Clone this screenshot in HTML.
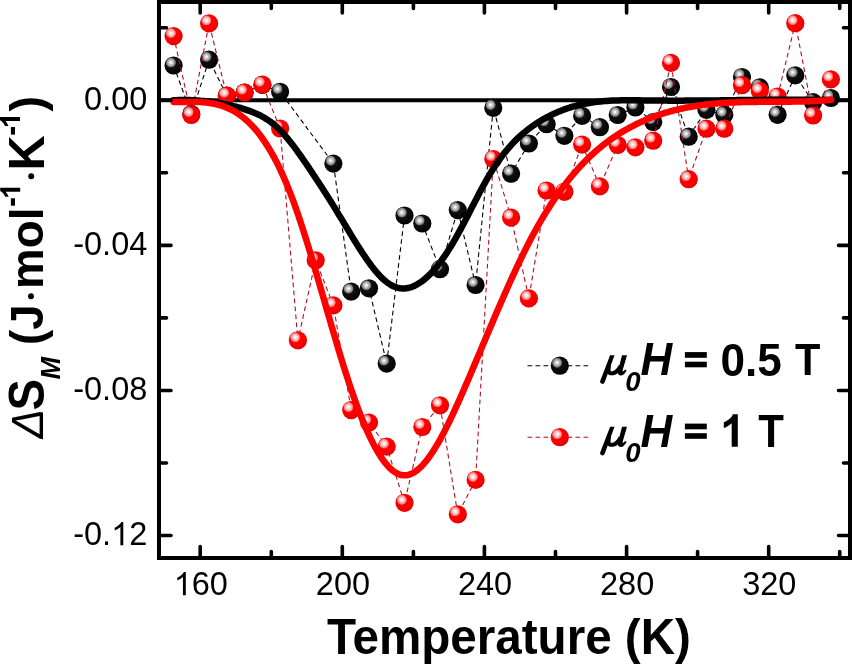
<!DOCTYPE html>
<html><head><meta charset="utf-8"><title>Delta S_M vs Temperature</title><style>
html,body{margin:0;padding:0;background:#fff;overflow:hidden;}
svg{display:block;will-change:transform;}
text{font-family:"Liberation Sans",sans-serif;fill:#000;}
.b{font-weight:bold;}
.bi{font-weight:bold;font-style:italic;}
.si{font-family:"Liberation Serif",serif;font-style:italic;}
.i{font-style:italic;}
.n{fill:none;}
</style></head><body>
<svg width="852" height="664" viewBox="0 0 852 664">
<defs>
<radialGradient id="bk" cx="0.42" cy="0.4" r="0.62"><stop offset="0" stop-color="#1a1a1a"/><stop offset="1" stop-color="#000"/></radialGradient>
<radialGradient id="br" cx="0.42" cy="0.4" r="0.62"><stop offset="0" stop-color="#ff0000"/><stop offset="0.75" stop-color="#fa0000"/><stop offset="1" stop-color="#d80000"/></radialGradient>
<radialGradient id="hk" cx="0.5" cy="0.5" r="0.5"><stop offset="0" stop-color="#ffffff"/><stop offset="0.15" stop-color="#f2f2f2"/><stop offset="0.45" stop-color="#bdbdbd"/><stop offset="0.75" stop-color="#8c8c8c"/><stop offset="0.92" stop-color="#4a4a4a"/><stop offset="1" stop-color="#1a1a1a" stop-opacity="0.5"/></radialGradient>
<radialGradient id="hr" cx="0.5" cy="0.5" r="0.5"><stop offset="0" stop-color="#ffffff"/><stop offset="0.3" stop-color="#ffe4e4"/><stop offset="0.7" stop-color="#ff9a9a"/><stop offset="0.9" stop-color="#ff5050"/><stop offset="1" stop-color="#ff0000" stop-opacity="0.6"/></radialGradient>
</defs>
<rect width="852" height="664" fill="#fff"/>

<line x1="159" y1="100.3" x2="850" y2="100.3" stroke="#000" stroke-width="4"/>
<polyline points="173.6,65.5 191.3,114.0 209.1,59.7 226.8,95.7 244.6,92.6 262.4,84.9 280.1,91.8 333.4,163.6 351.2,291.6 369.0,288.3 386.7,363.6 404.5,215.5 422.3,223.5 440.0,269.2 457.8,210.1 475.6,285.0 493.3,107.9 511.1,173.7 528.9,143.5 546.6,124.2 564.4,135.8 582.1,115.9 599.9,127.2 617.7,115.0 635.4,107.5 653.2,122.0 671.0,87.0 688.7,136.7 706.5,109.9 724.3,114.7 742.0,77.0 759.8,87.4 777.6,114.8 795.3,75.4 813.1,102.2 830.9,98.0" fill="none" stroke="#000" stroke-width="1.1" stroke-dasharray="4.7 3.3"/>
<circle cx="173.6" cy="65.5" r="9.1" fill="url(#bk)"/><circle cx="170.9" cy="62.5" r="5.3" fill="url(#hk)"/><circle cx="191.3" cy="114.0" r="9.1" fill="url(#bk)"/><circle cx="188.6" cy="111.0" r="5.3" fill="url(#hk)"/><circle cx="209.1" cy="59.7" r="9.1" fill="url(#bk)"/><circle cx="206.4" cy="56.7" r="5.3" fill="url(#hk)"/><circle cx="226.8" cy="95.7" r="9.1" fill="url(#bk)"/><circle cx="224.1" cy="92.7" r="5.3" fill="url(#hk)"/><circle cx="244.6" cy="92.6" r="9.1" fill="url(#bk)"/><circle cx="241.9" cy="89.6" r="5.3" fill="url(#hk)"/><circle cx="262.4" cy="84.9" r="9.1" fill="url(#bk)"/><circle cx="259.7" cy="81.9" r="5.3" fill="url(#hk)"/><circle cx="280.1" cy="91.8" r="9.1" fill="url(#bk)"/><circle cx="277.4" cy="88.8" r="5.3" fill="url(#hk)"/><circle cx="333.4" cy="163.6" r="9.1" fill="url(#bk)"/><circle cx="330.7" cy="160.6" r="5.3" fill="url(#hk)"/><circle cx="351.2" cy="291.6" r="9.1" fill="url(#bk)"/><circle cx="348.5" cy="288.6" r="5.3" fill="url(#hk)"/><circle cx="369.0" cy="288.3" r="9.1" fill="url(#bk)"/><circle cx="366.3" cy="285.3" r="5.3" fill="url(#hk)"/><circle cx="386.7" cy="363.6" r="9.1" fill="url(#bk)"/><circle cx="384.0" cy="360.6" r="5.3" fill="url(#hk)"/><circle cx="404.5" cy="215.5" r="9.1" fill="url(#bk)"/><circle cx="401.8" cy="212.5" r="5.3" fill="url(#hk)"/><circle cx="422.3" cy="223.5" r="9.1" fill="url(#bk)"/><circle cx="419.6" cy="220.5" r="5.3" fill="url(#hk)"/><circle cx="440.0" cy="269.2" r="9.1" fill="url(#bk)"/><circle cx="437.3" cy="266.2" r="5.3" fill="url(#hk)"/><circle cx="457.8" cy="210.1" r="9.1" fill="url(#bk)"/><circle cx="455.1" cy="207.1" r="5.3" fill="url(#hk)"/><circle cx="475.6" cy="285.0" r="9.1" fill="url(#bk)"/><circle cx="472.9" cy="282.0" r="5.3" fill="url(#hk)"/><circle cx="493.3" cy="107.9" r="9.1" fill="url(#bk)"/><circle cx="490.6" cy="104.9" r="5.3" fill="url(#hk)"/><circle cx="511.1" cy="173.7" r="9.1" fill="url(#bk)"/><circle cx="508.4" cy="170.7" r="5.3" fill="url(#hk)"/><circle cx="528.9" cy="143.5" r="9.1" fill="url(#bk)"/><circle cx="526.2" cy="140.5" r="5.3" fill="url(#hk)"/><circle cx="546.6" cy="124.2" r="9.1" fill="url(#bk)"/><circle cx="543.9" cy="121.2" r="5.3" fill="url(#hk)"/><circle cx="564.4" cy="135.8" r="9.1" fill="url(#bk)"/><circle cx="561.7" cy="132.8" r="5.3" fill="url(#hk)"/><circle cx="582.1" cy="115.9" r="9.1" fill="url(#bk)"/><circle cx="579.4" cy="112.9" r="5.3" fill="url(#hk)"/><circle cx="599.9" cy="127.2" r="9.1" fill="url(#bk)"/><circle cx="597.2" cy="124.2" r="5.3" fill="url(#hk)"/><circle cx="617.7" cy="115.0" r="9.1" fill="url(#bk)"/><circle cx="615.0" cy="112.0" r="5.3" fill="url(#hk)"/><circle cx="635.4" cy="107.5" r="9.1" fill="url(#bk)"/><circle cx="632.7" cy="104.5" r="5.3" fill="url(#hk)"/><circle cx="653.2" cy="122.0" r="9.1" fill="url(#bk)"/><circle cx="650.5" cy="119.0" r="5.3" fill="url(#hk)"/><circle cx="671.0" cy="87.0" r="9.1" fill="url(#bk)"/><circle cx="668.3" cy="84.0" r="5.3" fill="url(#hk)"/><circle cx="688.7" cy="136.7" r="9.1" fill="url(#bk)"/><circle cx="686.0" cy="133.7" r="5.3" fill="url(#hk)"/><circle cx="706.5" cy="109.9" r="9.1" fill="url(#bk)"/><circle cx="703.8" cy="106.9" r="5.3" fill="url(#hk)"/><circle cx="724.3" cy="114.7" r="9.1" fill="url(#bk)"/><circle cx="721.6" cy="111.7" r="5.3" fill="url(#hk)"/><circle cx="742.0" cy="77.0" r="9.1" fill="url(#bk)"/><circle cx="739.3" cy="74.0" r="5.3" fill="url(#hk)"/><circle cx="759.8" cy="87.4" r="9.1" fill="url(#bk)"/><circle cx="757.1" cy="84.4" r="5.3" fill="url(#hk)"/><circle cx="777.6" cy="114.8" r="9.1" fill="url(#bk)"/><circle cx="774.9" cy="111.8" r="5.3" fill="url(#hk)"/><circle cx="795.3" cy="75.4" r="9.1" fill="url(#bk)"/><circle cx="792.6" cy="72.4" r="5.3" fill="url(#hk)"/><circle cx="813.1" cy="102.2" r="9.1" fill="url(#bk)"/><circle cx="810.4" cy="99.2" r="5.3" fill="url(#hk)"/><circle cx="830.9" cy="98.0" r="9.1" fill="url(#bk)"/><circle cx="828.2" cy="95.0" r="5.3" fill="url(#hk)"/>
<polyline points="173.6,36.1 191.3,115.0 209.1,23.4 226.8,95.7 244.6,92.6 262.4,84.7 280.1,128.5 297.9,340.3 315.7,260.3 333.4,305.4 351.2,410.1 369.0,422.5 386.7,446.6 404.5,502.8 422.3,427.0 440.0,405.3 457.8,514.4 475.6,479.9 493.3,159.0 511.1,217.6 528.9,298.4 546.6,190.5 564.4,191.8 582.1,144.6 599.9,186.4 617.7,145.0 635.4,147.4 653.2,140.7 671.0,62.9 688.7,179.2 706.5,128.7 724.3,128.7 742.0,85.2 759.8,91.0 777.6,96.5 795.3,23.2 813.1,115.5 830.9,79.4" fill="none" stroke="#b01020" stroke-width="1.1" stroke-dasharray="4.7 3.3"/>
<circle cx="173.6" cy="36.1" r="9.1" fill="url(#br)"/><circle cx="170.9" cy="33.1" r="5.3" fill="url(#hr)"/><circle cx="191.3" cy="115.0" r="9.1" fill="url(#br)"/><circle cx="188.6" cy="112.0" r="5.3" fill="url(#hr)"/><circle cx="209.1" cy="23.4" r="9.1" fill="url(#br)"/><circle cx="206.4" cy="20.4" r="5.3" fill="url(#hr)"/><circle cx="226.8" cy="95.7" r="9.1" fill="url(#br)"/><circle cx="224.1" cy="92.7" r="5.3" fill="url(#hr)"/><circle cx="244.6" cy="92.6" r="9.1" fill="url(#br)"/><circle cx="241.9" cy="89.6" r="5.3" fill="url(#hr)"/><circle cx="262.4" cy="84.7" r="9.1" fill="url(#br)"/><circle cx="259.7" cy="81.7" r="5.3" fill="url(#hr)"/><circle cx="280.1" cy="128.5" r="9.1" fill="url(#br)"/><circle cx="277.4" cy="125.5" r="5.3" fill="url(#hr)"/><circle cx="297.9" cy="340.3" r="9.1" fill="url(#br)"/><circle cx="295.2" cy="337.3" r="5.3" fill="url(#hr)"/><circle cx="315.7" cy="260.3" r="9.1" fill="url(#br)"/><circle cx="313.0" cy="257.3" r="5.3" fill="url(#hr)"/><circle cx="333.4" cy="305.4" r="9.1" fill="url(#br)"/><circle cx="330.7" cy="302.4" r="5.3" fill="url(#hr)"/><circle cx="351.2" cy="410.1" r="9.1" fill="url(#br)"/><circle cx="348.5" cy="407.1" r="5.3" fill="url(#hr)"/><circle cx="369.0" cy="422.5" r="9.1" fill="url(#br)"/><circle cx="366.3" cy="419.5" r="5.3" fill="url(#hr)"/><circle cx="386.7" cy="446.6" r="9.1" fill="url(#br)"/><circle cx="384.0" cy="443.6" r="5.3" fill="url(#hr)"/><circle cx="404.5" cy="502.8" r="9.1" fill="url(#br)"/><circle cx="401.8" cy="499.8" r="5.3" fill="url(#hr)"/><circle cx="422.3" cy="427.0" r="9.1" fill="url(#br)"/><circle cx="419.6" cy="424.0" r="5.3" fill="url(#hr)"/><circle cx="440.0" cy="405.3" r="9.1" fill="url(#br)"/><circle cx="437.3" cy="402.3" r="5.3" fill="url(#hr)"/><circle cx="457.8" cy="514.4" r="9.1" fill="url(#br)"/><circle cx="455.1" cy="511.4" r="5.3" fill="url(#hr)"/><circle cx="475.6" cy="479.9" r="9.1" fill="url(#br)"/><circle cx="472.9" cy="476.9" r="5.3" fill="url(#hr)"/><circle cx="493.3" cy="159.0" r="9.1" fill="url(#br)"/><circle cx="490.6" cy="156.0" r="5.3" fill="url(#hr)"/><circle cx="511.1" cy="217.6" r="9.1" fill="url(#br)"/><circle cx="508.4" cy="214.6" r="5.3" fill="url(#hr)"/><circle cx="528.9" cy="298.4" r="9.1" fill="url(#br)"/><circle cx="526.2" cy="295.4" r="5.3" fill="url(#hr)"/><circle cx="546.6" cy="190.5" r="9.1" fill="url(#br)"/><circle cx="543.9" cy="187.5" r="5.3" fill="url(#hr)"/><circle cx="564.4" cy="191.8" r="9.1" fill="url(#br)"/><circle cx="561.7" cy="188.8" r="5.3" fill="url(#hr)"/><circle cx="582.1" cy="144.6" r="9.1" fill="url(#br)"/><circle cx="579.4" cy="141.6" r="5.3" fill="url(#hr)"/><circle cx="599.9" cy="186.4" r="9.1" fill="url(#br)"/><circle cx="597.2" cy="183.4" r="5.3" fill="url(#hr)"/><circle cx="617.7" cy="145.0" r="9.1" fill="url(#br)"/><circle cx="615.0" cy="142.0" r="5.3" fill="url(#hr)"/><circle cx="635.4" cy="147.4" r="9.1" fill="url(#br)"/><circle cx="632.7" cy="144.4" r="5.3" fill="url(#hr)"/><circle cx="653.2" cy="140.7" r="9.1" fill="url(#br)"/><circle cx="650.5" cy="137.7" r="5.3" fill="url(#hr)"/><circle cx="671.0" cy="62.9" r="9.1" fill="url(#br)"/><circle cx="668.3" cy="59.9" r="5.3" fill="url(#hr)"/><circle cx="688.7" cy="179.2" r="9.1" fill="url(#br)"/><circle cx="686.0" cy="176.2" r="5.3" fill="url(#hr)"/><circle cx="706.5" cy="128.7" r="9.1" fill="url(#br)"/><circle cx="703.8" cy="125.7" r="5.3" fill="url(#hr)"/><circle cx="724.3" cy="128.7" r="9.1" fill="url(#br)"/><circle cx="721.6" cy="125.7" r="5.3" fill="url(#hr)"/><circle cx="742.0" cy="85.2" r="9.1" fill="url(#br)"/><circle cx="739.3" cy="82.2" r="5.3" fill="url(#hr)"/><circle cx="759.8" cy="91.0" r="9.1" fill="url(#br)"/><circle cx="757.1" cy="88.0" r="5.3" fill="url(#hr)"/><circle cx="777.6" cy="96.5" r="9.1" fill="url(#br)"/><circle cx="774.9" cy="93.5" r="5.3" fill="url(#hr)"/><circle cx="795.3" cy="23.2" r="9.1" fill="url(#br)"/><circle cx="792.6" cy="20.2" r="5.3" fill="url(#hr)"/><circle cx="813.1" cy="115.5" r="9.1" fill="url(#br)"/><circle cx="810.4" cy="112.5" r="5.3" fill="url(#hr)"/><circle cx="830.9" cy="79.4" r="9.1" fill="url(#br)"/><circle cx="828.2" cy="76.4" r="5.3" fill="url(#hr)"/>
<polyline points="173.6,100.3 175.1,100.2 176.6,100.2 178.1,100.1 179.6,100.1 181.1,100.1 182.6,100.0 184.1,100.0 185.6,100.1 187.1,100.1 188.6,100.1 190.1,100.1 191.6,100.2 193.1,100.3 194.6,100.3 196.1,100.4 197.6,100.5 199.1,100.6 200.6,100.8 202.1,100.9 203.6,101.0 205.1,101.2 206.6,101.3 208.1,101.5 209.6,101.7 211.1,101.9 212.6,102.1 214.1,102.3 215.6,102.5 217.1,102.8 218.6,103.0 220.1,103.3 221.6,103.6 223.1,103.9 224.6,104.2 226.1,104.5 227.6,104.8 229.1,105.1 230.6,105.5 232.1,105.8 233.6,106.2 235.1,106.5 236.6,106.9 238.1,107.3 239.6,107.7 241.1,108.2 242.6,108.6 244.1,109.1 245.6,109.6 247.1,110.1 248.6,110.6 250.1,111.1 251.6,111.7 253.1,112.3 254.6,112.9 256.1,113.6 257.6,114.2 259.1,114.9 260.6,115.7 262.1,116.5 263.6,117.3 265.1,118.2 266.6,119.1 268.1,120.1 269.6,121.1 271.1,122.2 272.6,123.4 274.1,124.6 275.6,125.9 277.1,127.3 278.6,128.7 280.1,130.2 281.6,131.7 283.1,133.4 284.6,135.0 286.1,136.8 287.6,138.5 289.1,140.4 290.6,142.3 292.1,144.2 293.6,146.1 295.1,148.1 296.6,150.2 298.1,152.3 299.6,154.4 301.1,156.5 302.6,158.6 304.1,160.8 305.6,163.0 307.1,165.2 308.6,167.4 310.1,169.7 311.6,171.9 313.1,174.2 314.6,176.4 316.1,178.7 317.6,181.0 319.1,183.3 320.6,185.5 322.1,187.9 323.6,190.2 325.1,192.5 326.6,194.9 328.1,197.2 329.6,199.6 331.1,202.0 332.6,204.4 334.1,206.9 335.6,209.3 337.1,211.8 338.6,214.3 340.1,216.7 341.6,219.2 343.1,221.7 344.6,224.2 346.1,226.7 347.6,229.2 349.1,231.7 350.6,234.2 352.1,236.6 353.6,239.1 355.1,241.5 356.6,243.9 358.1,246.3 359.6,248.6 361.1,250.9 362.6,253.2 364.1,255.4 365.6,257.6 367.1,259.8 368.6,261.9 370.1,264.0 371.6,266.0 373.1,267.9 374.6,269.8 376.1,271.6 377.6,273.3 379.1,275.0 380.6,276.6 382.1,278.1 383.6,279.5 385.1,280.8 386.6,282.0 388.1,283.1 389.6,284.1 391.1,285.1 392.6,285.9 394.1,286.5 395.6,287.1 397.1,287.6 398.6,288.0 400.1,288.2 401.6,288.4 403.1,288.4 404.6,288.4 406.1,288.3 407.6,288.0 409.1,287.7 410.6,287.3 412.1,286.8 413.6,286.2 415.1,285.5 416.6,284.7 418.1,283.8 419.6,282.9 421.1,281.9 422.6,280.8 424.1,279.6 425.6,278.4 427.1,277.0 428.6,275.6 430.1,274.1 431.6,272.6 433.1,270.9 434.6,269.2 436.1,267.4 437.6,265.6 439.1,263.7 440.6,261.7 442.1,259.6 443.6,257.5 445.1,255.3 446.6,253.1 448.1,250.8 449.6,248.4 451.1,246.0 452.6,243.5 454.1,240.9 455.6,238.3 457.1,235.6 458.6,232.9 460.1,230.2 461.6,227.4 463.1,224.5 464.6,221.7 466.1,218.8 467.6,215.9 469.1,213.0 470.6,210.0 472.1,207.1 473.6,204.2 475.1,201.3 476.6,198.4 478.1,195.5 479.6,192.6 481.1,189.8 482.6,187.0 484.1,184.3 485.6,181.6 487.1,178.9 488.6,176.3 490.1,173.8 491.6,171.3 493.1,168.9 494.6,166.6 496.1,164.4 497.6,162.2 499.1,160.0 500.6,158.0 502.1,155.9 503.6,154.0 505.1,152.1 506.6,150.3 508.1,148.5 509.6,146.8 511.1,145.1 512.6,143.5 514.1,141.9 515.6,140.4 517.1,138.9 518.6,137.5 520.1,136.1 521.6,134.7 523.1,133.4 524.6,132.2 526.1,131.0 527.6,129.8 529.1,128.6 530.6,127.5 532.1,126.4 533.6,125.4 535.1,124.3 536.6,123.4 538.1,122.4 539.6,121.5 541.1,120.5 542.6,119.7 544.1,118.8 545.6,118.0 547.1,117.1 548.6,116.4 550.1,115.6 551.6,114.8 553.1,114.1 554.6,113.4 556.1,112.8 557.6,112.1 559.1,111.5 560.6,110.9 562.1,110.3 563.6,109.7 565.1,109.2 566.6,108.7 568.1,108.1 569.6,107.7 571.1,107.2 572.6,106.7 574.1,106.3 575.6,105.9 577.1,105.5 578.6,105.1 580.1,104.8 581.6,104.4 583.1,104.1 584.6,103.8 586.1,103.5 587.6,103.2 589.1,103.0 590.6,102.7 592.1,102.5 593.6,102.3 595.1,102.1 596.6,101.9 598.1,101.7 599.6,101.6 601.1,101.4 602.6,101.3 604.1,101.1 605.6,101.0 607.1,100.9 608.6,100.8 610.1,100.7 611.6,100.6 613.1,100.6 614.6,100.5 616.1,100.4 617.6,100.4 619.1,100.4 620.6,100.3 622.1,100.3 623.6,100.3 625.1,100.3 626.6,100.3 628.1,100.3 629.6,100.3 631.1,100.3 632.6,100.3 634.1,100.3 635.6,100.3 637.1,100.3 638.6,100.3 640.1,100.3 641.6,100.4 643.1,100.4 644.6,100.4 646.1,100.4 647.6,100.5 649.1,100.5 650.6,100.5 652.1,100.5 653.6,100.5 655.1,100.6 656.6,100.6 658.1,100.6 659.6,100.6 661.1,100.6 662.6,100.6 664.1,100.6 665.6,100.6 667.1,100.6 668.6,100.7 670.1,100.7 671.6,100.7 673.1,100.7 674.6,100.7 676.1,100.7 677.6,100.7 679.1,100.7 680.6,100.7 682.1,100.7 683.6,100.7 685.1,100.6 686.6,100.6 688.1,100.6 689.6,100.6 691.1,100.6 692.6,100.6 694.1,100.6 695.6,100.6 697.1,100.6 698.6,100.6 700.1,100.6 701.6,100.5 703.1,100.5 704.6,100.5 706.1,100.5 707.6,100.5 709.1,100.5 710.6,100.5 712.1,100.4 713.6,100.4 715.1,100.4 716.6,100.4 718.1,100.4 719.6,100.4 721.1,100.3 722.6,100.3 724.1,100.3 725.6,100.3 727.1,100.3 728.6,100.3 730.1,100.2 731.6,100.2 733.1,100.2 734.6,100.2 736.1,100.2 737.6,100.1 739.1,100.1 740.6,100.1 742.1,100.1 743.6,100.1 745.1,100.0 746.6,100.0 748.1,100.0 749.6,100.0 751.1,100.0 752.6,100.0 754.1,99.9 755.6,99.9 757.1,99.9 758.6,99.9 760.1,99.9 761.6,99.9 763.1,99.9 764.6,99.8 766.1,99.8 767.6,99.8 769.1,99.8 770.6,99.8 772.1,99.8 773.6,99.8 775.1,99.8 776.6,99.8 778.1,99.8 779.6,99.7 781.1,99.7 782.6,99.7 784.1,99.7 785.6,99.7 787.1,99.7 788.6,99.7 790.1,99.7 791.6,99.7 793.1,99.7 794.6,99.7 796.1,99.7 797.6,99.7 799.1,99.7 800.6,99.7 802.1,99.7 803.6,99.8 805.1,99.8 806.6,99.8 808.1,99.8 809.6,99.8 811.1,99.8 812.6,99.8 814.1,99.8 815.6,99.9 817.1,99.9 818.6,99.9 820.1,99.9 821.6,100.0 823.1,100.0 824.6,100.0 826.1,100.0 827.6,100.1 829.1,100.1 831.1,100.1" fill="none" stroke="#000" stroke-width="6.5" stroke-linejoin="round" stroke-linecap="round"/>
<polyline points="173.6,101.9 175.1,102.0 176.6,102.0 178.1,102.0 179.6,101.9 181.1,101.9 182.6,101.9 184.1,101.9 185.6,101.9 187.1,101.9 188.6,101.9 190.1,101.9 191.6,101.9 193.1,101.9 194.6,101.9 196.1,101.9 197.6,102.0 199.1,102.0 200.6,102.1 202.1,102.2 203.6,102.3 205.1,102.5 206.6,102.6 208.1,102.8 209.6,103.0 211.1,103.2 212.6,103.5 214.1,103.8 215.6,104.1 217.1,104.5 218.6,104.9 220.1,105.3 221.6,105.7 223.1,106.2 224.6,106.8 226.1,107.4 227.6,108.0 229.1,108.7 230.6,109.4 232.1,110.2 233.6,111.0 235.1,111.8 236.6,112.8 238.1,113.7 239.6,114.8 241.1,115.9 242.6,117.0 244.1,118.2 245.6,119.5 247.1,120.8 248.6,122.2 250.1,123.7 251.6,125.2 253.1,126.8 254.6,128.5 256.1,130.2 257.6,132.0 259.1,133.9 260.6,135.9 262.1,138.0 263.6,140.1 265.1,142.3 266.6,144.6 268.1,147.0 269.6,149.5 271.1,152.0 272.6,154.7 274.1,157.4 275.6,160.2 277.1,163.1 278.6,166.2 280.1,169.3 281.6,172.5 283.1,175.8 284.6,179.2 286.1,182.7 287.6,186.4 289.1,190.1 290.6,193.9 292.1,197.9 293.6,201.9 295.1,206.1 296.6,210.3 298.1,214.7 299.6,219.1 301.1,223.7 302.6,228.3 304.1,233.0 305.6,237.7 307.1,242.6 308.6,247.4 310.1,252.4 311.6,257.4 313.1,262.4 314.6,267.4 316.1,272.6 317.6,277.7 319.1,282.8 320.6,288.0 322.1,293.2 323.6,298.4 325.1,303.6 326.6,308.8 328.1,314.0 329.6,319.2 331.1,324.3 332.6,329.5 334.1,334.6 335.6,339.7 337.1,344.7 338.6,349.7 340.1,354.7 341.6,359.6 343.1,364.5 344.6,369.3 346.1,374.0 347.6,378.6 349.1,383.2 350.6,387.7 352.1,392.1 353.6,396.4 355.1,400.6 356.6,404.8 358.1,408.8 359.6,412.7 361.1,416.6 362.6,420.3 364.1,423.9 365.6,427.4 367.1,430.9 368.6,434.2 370.1,437.4 371.6,440.4 373.1,443.4 374.6,446.3 376.1,449.0 377.6,451.6 379.1,454.1 380.6,456.4 382.1,458.7 383.6,460.7 385.1,462.7 386.6,464.5 388.1,466.2 389.6,467.8 391.1,469.2 392.6,470.5 394.1,471.6 395.6,472.6 397.1,473.4 398.6,474.1 400.1,474.7 401.6,475.0 403.1,475.3 404.6,475.3 406.1,475.3 407.6,475.0 409.1,474.6 410.6,474.1 412.1,473.4 413.6,472.6 415.1,471.7 416.6,470.6 418.1,469.4 419.6,468.1 421.1,466.7 422.6,465.1 424.1,463.4 425.6,461.7 427.1,459.8 428.6,457.8 430.1,455.7 431.6,453.5 433.1,451.2 434.6,448.9 436.1,446.4 437.6,443.9 439.1,441.3 440.6,438.6 442.1,435.8 443.6,433.0 445.1,430.1 446.6,427.1 448.1,424.1 449.6,421.0 451.1,417.9 452.6,414.7 454.1,411.5 455.6,408.2 457.1,404.9 458.6,401.6 460.1,398.2 461.6,394.8 463.1,391.4 464.6,387.9 466.1,384.4 467.6,381.0 469.1,377.5 470.6,374.0 472.1,370.4 473.6,366.9 475.1,363.4 476.6,359.8 478.1,356.3 479.6,352.7 481.1,349.2 482.6,345.6 484.1,342.1 485.6,338.5 487.1,335.0 488.6,331.4 490.1,327.9 491.6,324.4 493.1,320.9 494.6,317.3 496.1,313.8 497.6,310.3 499.1,306.9 500.6,303.4 502.1,300.0 503.6,296.5 505.1,293.1 506.6,289.7 508.1,286.4 509.6,283.0 511.1,279.7 512.6,276.4 514.1,273.1 515.6,269.9 517.1,266.7 518.6,263.5 520.1,260.4 521.6,257.3 523.1,254.2 524.6,251.1 526.1,248.1 527.6,245.2 529.1,242.2 530.6,239.4 532.1,236.5 533.6,233.7 535.1,231.0 536.6,228.3 538.1,225.6 539.6,223.0 541.1,220.4 542.6,217.8 544.1,215.3 545.6,212.9 547.1,210.4 548.6,208.1 550.1,205.7 551.6,203.4 553.1,201.2 554.6,198.9 556.1,196.7 557.6,194.6 559.1,192.5 560.6,190.4 562.1,188.4 563.6,186.3 565.1,184.4 566.6,182.4 568.1,180.5 569.6,178.7 571.1,176.8 572.6,175.0 574.1,173.3 575.6,171.6 577.1,169.9 578.6,168.2 580.1,166.5 581.6,164.9 583.1,163.4 584.6,161.8 586.1,160.3 587.6,158.8 589.1,157.4 590.6,155.9 592.1,154.5 593.6,153.2 595.1,151.8 596.6,150.5 598.1,149.2 599.6,148.0 601.1,146.7 602.6,145.5 604.1,144.3 605.6,143.2 607.1,142.0 608.6,140.9 610.1,139.8 611.6,138.8 613.1,137.7 614.6,136.7 616.1,135.7 617.6,134.7 619.1,133.8 620.6,132.8 622.1,131.9 623.6,131.0 625.1,130.1 626.6,129.3 628.1,128.5 629.6,127.6 631.1,126.8 632.6,126.1 634.1,125.3 635.6,124.5 637.1,123.8 638.6,123.1 640.1,122.4 641.6,121.7 643.1,121.0 644.6,120.4 646.1,119.7 647.6,119.1 649.1,118.5 650.6,117.9 652.1,117.3 653.6,116.8 655.1,116.2 656.6,115.7 658.1,115.2 659.6,114.6 661.1,114.1 662.6,113.7 664.1,113.2 665.6,112.7 667.1,112.3 668.6,111.9 670.1,111.4 671.6,111.0 673.1,110.6 674.6,110.2 676.1,109.9 677.6,109.5 679.1,109.1 680.6,108.8 682.1,108.5 683.6,108.2 685.1,107.8 686.6,107.5 688.1,107.3 689.6,107.0 691.1,106.7 692.6,106.5 694.1,106.2 695.6,106.0 697.1,105.7 698.6,105.5 700.1,105.3 701.6,105.1 703.1,104.9 704.6,104.7 706.1,104.5 707.6,104.3 709.1,104.2 710.6,104.0 712.1,103.9 713.6,103.7 715.1,103.6 716.6,103.5 718.1,103.3 719.6,103.2 721.1,103.1 722.6,103.0 724.1,102.9 725.6,102.8 727.1,102.7 728.6,102.6 730.1,102.6 731.6,102.5 733.1,102.4 734.6,102.4 736.1,102.3 737.6,102.3 739.1,102.2 740.6,102.2 742.1,102.1 743.6,102.1 745.1,102.0 746.6,102.0 748.1,102.0 749.6,102.0 751.1,101.9 752.6,101.9 754.1,101.9 755.6,101.9 757.1,101.9 758.6,101.8 760.1,101.8 761.6,101.8 763.1,101.8 764.6,101.8 766.1,101.8 767.6,101.8 769.1,101.8 770.6,101.8 772.1,101.8 773.6,101.8 775.1,101.8 776.6,101.8 778.1,101.8 779.6,101.8 781.1,101.8 782.6,101.7 784.1,101.7 785.6,101.7 787.1,101.7 788.6,101.7 790.1,101.7 791.6,101.7 793.1,101.6 794.6,101.6 796.1,101.6 797.6,101.6 799.1,101.5 800.6,101.5 802.1,101.5 803.6,101.4 805.1,101.4 806.6,101.3 808.1,101.3 809.6,101.2 811.1,101.2 812.6,101.1 814.1,101.0 815.6,100.9 817.1,100.9 818.6,100.8 820.1,100.7 821.6,100.6 823.1,100.5 824.6,100.4 826.1,100.3 827.6,100.1 829.1,100.0 831.1,99.8" fill="none" stroke="#ff0000" stroke-width="6.5" stroke-linejoin="round" stroke-linecap="round"/>
<rect x="159" y="2" width="691" height="556" fill="none" stroke="#000" stroke-width="4"/>
<path d="M200.2,558V546.5M200.2,2V13M271.3,558V551.5M271.3,2V8.5M342.3,558V546.5M342.3,2V13M413.4,558V551.5M413.4,2V8.5M484.4,558V546.5M484.4,2V13M555.5,558V551.5M555.5,2V8.5M626.6,558V546.5M626.6,2V13M697.6,558V551.5M697.6,2V8.5M768.7,558V546.5M768.7,2V13M839.7,558V551.5M839.7,2V8.5M159,100.3H171M850,100.3H838.5M159,245.4H171M850,245.4H838.5M159,390.5H171M850,390.5H838.5M159,535.5H171M850,535.5H838.5M159,27.8H166.5M850,27.8H843.5M159,172.8H166.5M850,172.8H843.5M159,317.9H166.5M850,317.9H843.5M159,463.0H166.5M850,463.0H843.5" stroke="#000" stroke-width="3.6" stroke-linecap="round" fill="none"/>
<text transform="translate(173.69,595.3) scale(1,1.04)" style="font-size:32.5px"><tspan class="n">1</tspan>60</text><path transform="translate(173.69,595.30) scale(0.01587,-0.01593)" d="M763,0L583,0L583,1147C540,1106 483,1065 413,1024C343,983 280,952 224,931L224,1105C325,1152 413,1210 488,1278C563,1346 616,1412 647,1466L763,1466Z"/>
<text transform="translate(315.81,595.3) scale(1,1.04)" style="font-size:32.5px">200</text>
<text transform="translate(457.94,595.3) scale(1,1.04)" style="font-size:32.5px">240</text>
<text transform="translate(600.05,595.3) scale(1,1.04)" style="font-size:32.5px">280</text>
<text transform="translate(742.18,595.3) scale(1,1.04)" style="font-size:32.5px">320</text>
<text transform="translate(84.06,110.0) scale(1,1.04)" style="font-size:32.5px">0.00</text>
<text transform="translate(73.23,255.08) scale(1,1.04)" style="font-size:32.5px">-0.04</text>
<text transform="translate(73.23,400.16) scale(1,1.04)" style="font-size:32.5px">-0.08</text>
<text transform="translate(73.23,545.24) scale(1,1.04)" style="font-size:32.5px">-0.<tspan class="n">1</tspan>2</text><path transform="translate(111.16,545.24) scale(0.01587,-0.01593)" d="M763,0L583,0L583,1147C540,1106 483,1065 413,1024C343,983 280,952 224,931L224,1105C325,1152 413,1210 488,1278C563,1346 616,1412 647,1466L763,1466Z"/>
<text class="b" transform="translate(326.9,654.3) scale(1,1.04)" style="font-size:47.6px">Temperature (K)</text>
<text class="i" transform="translate(42.90,438.40) rotate(-90) scale(1,1.000)" style="font-size:44.10px" >&#916;</text>
<text class="b" transform="translate(44.30,410.40) rotate(-90) scale(1,1.055)" style="font-size:47.35px" >S</text>
<text class="bi" transform="translate(59.75,379.55) rotate(-90) scale(1,1.000)" style="font-size:27.15px" >M</text>
<text class="b" transform="translate(42.55,344.90) rotate(-90) scale(1,1.000)" style="font-size:45.76px" >(J<tspan class="n">&#183;</tspan>mol</text>
<circle cx="31.0" cy="296.3" r="2.95"/>
<rect x="10.9" y="198.3" width="4.1" height="7.4"/>
<path transform="translate(20.20,199.30) rotate(-90) scale(0.01416,-0.01366)" d="M819,0L538,0L538,1059C435,963 314,891 175,845L175,1100C248,1124 328,1169 414,1236C500,1303 559,1381 591,1466L819,1466Z"/>
<circle cx="31.2" cy="176.3" r="2.95"/>
<text class="b" transform="translate(43.85,170.45) rotate(-90) scale(1,1.020)" style="font-size:48.74px" >K</text>
<rect x="10.9" y="127.0" width="4.1" height="7.6"/>
<path transform="translate(20.00,128.60) rotate(-90) scale(0.01416,-0.01366)" d="M819,0L538,0L538,1059C435,963 314,891 175,845L175,1100C248,1124 328,1169 414,1236C500,1303 559,1381 591,1466L819,1466Z"/>
<text class="b" transform="translate(43.30,111.60) rotate(-90) scale(1,1.000)" style="font-size:47.00px" >)</text>
<line x1="527.5" y1="365.7" x2="591" y2="365.7" stroke="#000" stroke-width="1.1" stroke-dasharray="4.7 3.3"/>
<circle cx="559.8" cy="365.7" r="9.1" fill="url(#bk)"/><circle cx="557.1" cy="362.7" r="5.3" fill="url(#hk)"/>
<g transform="translate(0,0)"><path d="M610.1,355.3L614.5,355.3L604.6,382.6A2.45,2.45 0 0 1 600.0,381.6Z"/><path d="M608.9,364.5L608.6,370C608.3,373.5 610.5,373.6 612.8,373.2C615.6,372.7 618.3,370.6 620.6,366" fill="none" stroke="#000" stroke-width="4.0"/><path d="M622.0,355.3L627.0,355.3L622.7,370.0Q622.3,371.8 623.4,371.2L625.1,369.4L626.6,370.4Q623.8,375.6 620.6,375.4Q617.2,375.0 617.9,371.4Z"/></g>
<text class="bi" transform="translate(625.15,390.95)" style="font-size:27.56px">0</text>
<text class="bi" transform="translate(640.6,375.45) scale(1,1.059)" style="font-size:43.9px">H</text>
<rect x="684.9" y="352.1" width="21.9" height="5.7"/><rect x="684.9" y="361.7" width="21.9" height="5.6"/>
<text class="b" transform="translate(720.5,375.6) scale(1,1.06)" style="font-size:44.1px">0.5</text>
<text class="b" transform="translate(795.05,374.95) scale(1,1.074)" style="font-size:41.52px">T</text>
<line x1="527.5" y1="437.2" x2="591" y2="437.2" stroke="#b01020" stroke-width="1.1" stroke-dasharray="4.7 3.3"/>
<circle cx="559.8" cy="437.2" r="9.1" fill="url(#br)"/><circle cx="557.1" cy="434.2" r="5.3" fill="url(#hr)"/>
<g transform="translate(0,71.5)"><path d="M610.1,355.3L614.5,355.3L604.6,382.6A2.45,2.45 0 0 1 600.0,381.6Z"/><path d="M608.9,364.5L608.6,370C608.3,373.5 610.5,373.6 612.8,373.2C615.6,372.7 618.3,370.6 620.6,366" fill="none" stroke="#000" stroke-width="4.0"/><path d="M622.0,355.3L627.0,355.3L622.7,370.0Q622.3,371.8 623.4,371.2L625.1,369.4L626.6,370.4Q623.8,375.6 620.6,375.4Q617.2,375.0 617.9,371.4Z"/></g>
<text class="bi" transform="translate(625.15,462.45)" style="font-size:27.56px">0</text>
<text class="bi" transform="translate(640.6,446.95) scale(1,1.059)" style="font-size:43.9px">H</text>
<rect x="684.9" y="423.6" width="21.9" height="5.7"/><rect x="684.9" y="433.2" width="21.9" height="5.6"/>
<path transform="translate(720.00,446.80) scale(0.02173,-0.02223)" d="M819,0L538,0L538,1059C435,963 314,891 175,845L175,1100C248,1124 328,1169 414,1236C500,1303 559,1381 591,1466L819,1466Z"/>
<text class="b" transform="translate(758.2,446.95) scale(1,1.09)" style="font-size:42.0px">T</text>
</svg></body></html>
